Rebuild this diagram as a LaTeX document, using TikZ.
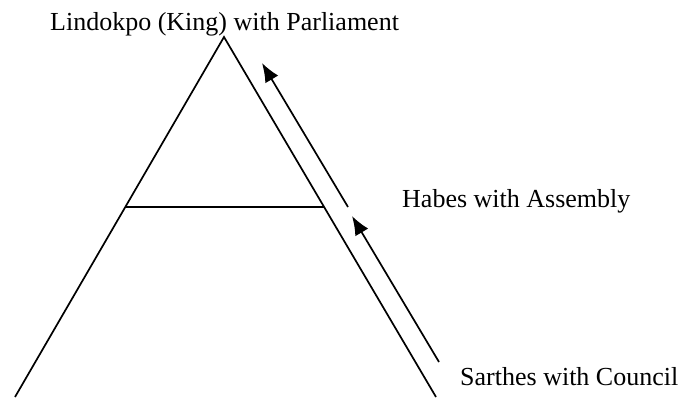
\documentclass[tikz,border=0pt]{standalone}
\usepackage{fontspec}
\setmainfont{Liberation Serif}
\usepackage{tikz}
\usetikzlibrary{arrows.meta, positioning, calc}

\begin{document}
\begin{tikzpicture}[
    x=1pt, y=-1pt,
    label/.style={inner sep=0pt, anchor=base west, font=\fontsize{26}{30}\selectfont},
    edge/.style={line width=1.7pt},
    arrow/.style={-{Latex[length=19pt, width=15pt]}, line width=1.7pt}
]
    \useasboundingbox (0,0) rectangle (684,398);

    % Triangle corners
    \coordinate (apex) at (224,37);
    \coordinate (left) at (15,397);
    \coordinate (right) at (436,397);
    \coordinate (midleft) at ($(apex)!0.472!(left)$);
    \coordinate (midright) at ($(apex)!0.472!(right)$);

    % Triangle
    \draw[edge] (left) -- (apex) -- (right);
    \draw[edge] (midleft) -- (midright);

    % Arrows
    \coordinate (uptail) at (348,207);
    \coordinate (uphead) at (262,63);
    \coordinate (lowtail) at (439,362);
    \coordinate (lowhead) at (352,216);
    \draw[arrow] (uptail) -- (uphead);
    \draw[arrow] (lowtail) -- (lowhead);

    % Labels
    \node[label] (king) at (50,31) {Lindokpo (King) with Parliament};
    \node[label] (habes) at (402,207) {Habes with Assembly};
    \node[label] (sarthes) at (460,385) {Sarthes with Council};
\end{tikzpicture}
\end{document}
